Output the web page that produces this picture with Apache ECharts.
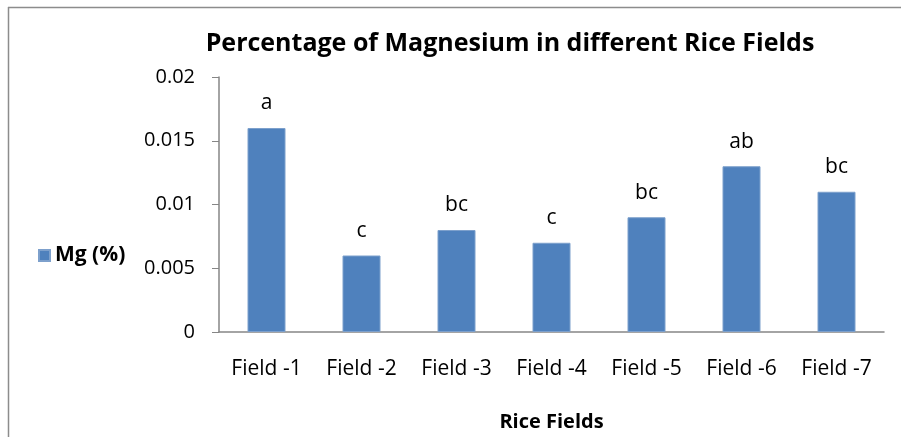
<!DOCTYPE html>
<html>
<head>
<meta charset="utf-8">
<script src="https://cdn.jsdelivr.net/npm/echarts@6/dist/echarts.min.js"></script>
<style>
  html, body { margin: 0; padding: 0; background: #fff; }
  #chart { width: 901px; height: 437px; }
</style>
</head>
<body>
<div id="chart"></div>
<script>
// data
const fields = ['Field -1', 'Field -2', 'Field -3', 'Field -4', 'Field -5', 'Field -6', 'Field -7']
const mgValues = [0.016, 0.006, 0.008, 0.007, 0.009, 0.013, 0.011]
const groupLetters = ['a', 'c', 'bc', 'c', 'bc', 'ab', 'bc']

const font = 'Open Sans'
const axisGray = '#868686'

const chart = echarts.init(document.getElementById('chart'))

const option = {
  animation: false,
  textStyle: { fontFamily: font },
  // frame lines, only top and left show in the picture
  graphic: [
    { type: 'line', shape: { x1: 8, y1: 7.5, x2: 901, y2: 7.5 }, style: { stroke: '#8c8c8c', lineWidth: 1.5 } },
    { type: 'line', shape: { x1: 8.5, y1: 7, x2: 8.5, y2: 437 }, style: { stroke: '#8c8c8c', lineWidth: 1.5 } }
  ],
  title: {
    text: 'Percentage of Magnesium in different Rice Fields',
    left: 505,
    textAlign: 'center',
    top: 26,
    textStyle: { fontFamily: font, fontSize: 25, fontWeight: 'bold', color: '#000' }
  },
  legend: {
    left: 33,
    top: 240,
    icon: 'rect',
    itemWidth: 11,
    itemHeight: 11,
    itemGap: 6,
    textStyle: { fontFamily: font, fontSize: 21, fontWeight: 'bold', color: '#000' },
    data: ['Mg (%)']
  },
  grid: { left: 219, right: 17, top: 77, bottom: 104 },
  xAxis: {
    type: 'category',
    data: fields,
    name: 'Rice Fields',
    nameLocation: 'middle',
    nameGap: 80,
    nameTextStyle: { fontFamily: font, fontSize: 20, fontWeight: 'bold', color: '#000' },
    axisLine: { lineStyle: { color: axisGray, width: 1.5 } },
    axisTick: { length: 7, lineStyle: { color: axisGray } },
    axisLabel: { margin: 27, fontSize: 21, color: '#000', interval: 0 }
  },
  yAxis: {
    type: 'value',
    min: 0,
    max: 0.02,
    interval: 0.005,
    splitLine: { show: false },
    axisLine: { show: true, lineStyle: { color: axisGray, width: 1.5 } },
    axisTick: { show: true, length: 7, lineStyle: { color: axisGray } },
    axisLabel: { margin: 24, fontSize: 20, color: '#000' }
  },
  series: [{
    name: 'Mg (%)',
    type: 'bar',
    data: mgValues,
    barWidth: '40%',
    itemStyle: { color: '#4F81BD', borderColor: '#7da0cc', borderWidth: 1 },
    label: {
      show: true,
      position: 'top',
      distance: 14,
      fontSize: 21,
      color: '#000',
      formatter: p => groupLetters[p.dataIndex]
    }
  }]
}

chart.setOption(option)
</script>
</body>
</html>
